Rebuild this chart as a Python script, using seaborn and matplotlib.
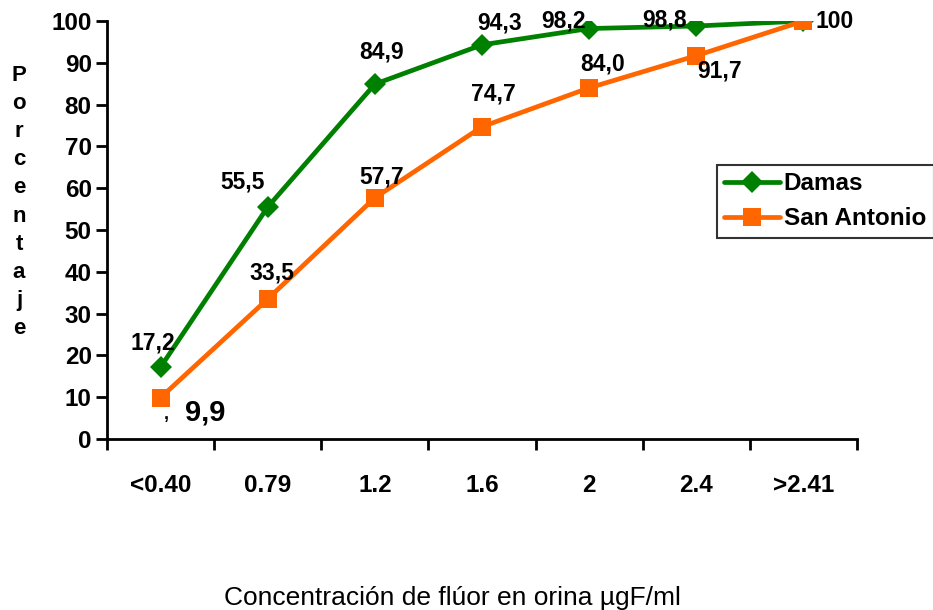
import pandas as pd
import matplotlib
matplotlib.use("Agg")
import matplotlib.pyplot as plt
import seaborn as sns

# datos
categorias = ['<0.40', '0.79', '1.2', '1.6', '2', '2.4', '>2.41']
damas = [17.2, 55.5, 84.9, 94.3, 98.2, 98.8, 100]
san_antonio = [9.9, 33.5, 57.7, 74.7, 84.0, 91.7, 100]
etiquetas_damas = ['17,2', '55,5', '84,9', '94,3', '98,2', '98,8', '100']
etiquetas_sa = ['9,9', '33,5', '57,7', '74,7', '84,0', '91,7', '']
yticks = [0, 10, 20, 30, 40, 50, 60, 70, 80, 90, 100]

sns.set_style('white')
plt.rcParams['font.family'] = ['Liberation Sans', 'DejaVu Sans']
plt.rcParams['text.color'] = 'black'
plt.rcParams['xtick.color'] = 'black'
plt.rcParams['ytick.color'] = 'black'

df = pd.DataFrame({
    'pos': list(range(len(categorias))) * 2,
    'valor': damas + san_antonio,
    'serie': ['Damas'] * len(damas) + ['San Antonio'] * len(san_antonio),
})

fig = plt.figure(figsize=(9.33, 6.10), dpi=100)
ax = fig.add_axes([107 / 933, 1 - 439 / 610, 750 / 933, 418 / 610])

colores = {'Damas': '#008000', 'San Antonio': '#FF6600'}
sns.lineplot(data=df, x='pos', y='valor', hue='serie', style='serie',
             palette=colores, markers={'Damas': 'D', 'San Antonio': 's'},
             dashes=False, linewidth=3.4, markersize=11, markeredgewidth=0,
             legend=False, ax=ax)
# ajustar tamano de marcadores
for ln in ax.lines:
    if ln.get_marker() == 's':
        ln.set_markersize(13)
    else:
        ln.set_markersize(11)

ax.set_xlim(-0.5, len(categorias) - 0.5)
ax.set_ylim(0, 100)
ax.set_yticks(yticks)
ax.set_yticklabels([str(v) for v in yticks], fontsize=17.5, fontweight='bold')
ax.set_xticks(range(len(categorias)))
ax.set_xticklabels(categorias, fontsize=17.5, fontweight='bold')
ax.set_xticks([i - 0.5 for i in range(len(categorias) + 1)], minor=True)
ax.tick_params(axis='x', which='major', length=0, pad=25)
ax.tick_params(axis='x', which='minor', length=8, width=2, direction='out', bottom=True)
ax.tick_params(axis='y', length=8, width=2, direction='out', left=True, pad=3)
ax.set_xlabel('')
ax.set_ylabel('')
sns.despine(ax=ax)
ax.spines['left'].set_linewidth(2)
ax.spines['bottom'].set_linewidth(2)
for s in ['left', 'bottom']:
    ax.spines[s].set_color('black')

# etiquetas de datos (desplazamiento en pixeles)
off_damas = [(-8, 24), (-25, 25), (7, 32), (18, 22), (-26, 8), (-32, 6), (31, 0)]
off_sa = [(45, -15), (4, 26), (7, 21), (11, 33), (13, 24), (23, -15), (0, 0)]
for i, (v, t) in enumerate(zip(damas, etiquetas_damas)):
    ax.annotate(t, (i, v), xytext=off_damas[i], textcoords='offset pixels',
                ha='center', va='center', fontsize=16.5, fontweight='bold')
for i, (v, t) in enumerate(zip(san_antonio, etiquetas_sa)):
    if not t:
        continue
    fs = 21 if i == 0 else 16.5
    ax.annotate(t, (i, v), xytext=off_sa[i], textcoords='offset pixels',
                ha='center', va='center', fontsize=fs, fontweight='bold')
ax.annotate(',', (0, san_antonio[0]), xytext=(6, -17), textcoords='offset pixels',
            ha='center', va='center', fontsize=13, fontweight='bold')

# eje y con letras apiladas
fig.text(19 / 933, 1 - 202 / 610, '\n'.join('Porcentaje'), ha='center', va='center',
         fontsize=16, fontweight='bold', linespacing=1.45)
fig.text(452 / 933, 1 - 598 / 610, 'Concentración de flúor en orina µgF/ml',
         ha='center', va='center', fontsize=19)

leg = ax.legend(handles=ax.lines[:2], labels=['Damas', 'San Antonio'],
                loc='upper left', bbox_to_anchor=(717 / 933, 1 - 165 / 610),
                bbox_transform=fig.transFigure, frameon=True, fancybox=False,
                prop={'size': 17.5, 'weight': 'bold'}, handlelength=2.3,
                handletextpad=0.15, borderpad=0.3, labelspacing=0.5,
                borderaxespad=0)
leg.get_frame().set_edgecolor('black')
leg.get_frame().set_linewidth(1.5)

fig.savefig('out.png', dpi=100)
